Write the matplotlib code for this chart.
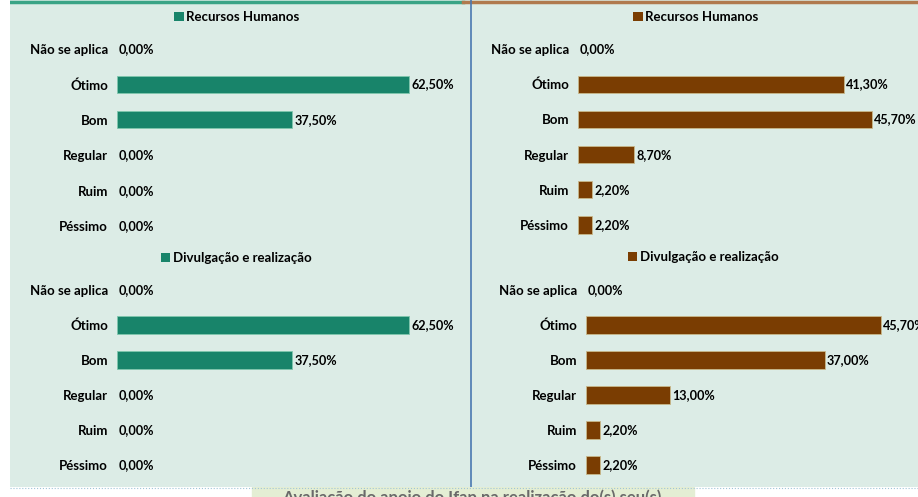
import matplotlib.pyplot as plt
from matplotlib.patches import Rectangle

# categories and values
categorias = ['Não se aplica', 'Ótimo', 'Bom', 'Regular', 'Ruim', 'Péssimo']
rh_esq = [0.0, 62.5, 37.5, 0.0, 0.0, 0.0]
div_esq = [0.0, 62.5, 37.5, 0.0, 0.0, 0.0]
rh_dir = [0.0, 41.3, 45.7, 8.7, 2.2, 2.2]
div_dir = [0.0, 45.7, 37.0, 13.0, 2.2, 2.2]
serie_rh = 'Recursos Humanos'
serie_div = 'Divulgação e realização'
rodape = 'Avaliação do apoio do Ifap na realização do(s) seu(s)'

VERDE = '#18846a'
MARROM = '#7a3d02'
FUNDO = '#dcece6'

W, H = 918, 497
plt.rcParams['font.family'] = ['Lato', 'DejaVu Sans']

fig = plt.figure(figsize=(W / 100, H / 100), dpi=100)
fig.patch.set_facecolor('white')


def caixa(x0, y0, x1, y1):
    return [x0 / W, 1 - y1 / H, (x1 - x0) / W, (y1 - y0) / H]


# background panel and decorations
bg = fig.add_axes(caixa(10, 0, 918, 487))
bg.set_facecolor(FUNDO)
bg.set_xlim(10, 918)
bg.set_ylim(487, 0)
bg.set_xticks([])
bg.set_yticks([])
for s in bg.spines.values():
    s.set_visible(False)
bg.plot([10, 463], [1.5, 1.5], color='#3aa486', lw=2.5)
bg.plot([463, 918], [1.5, 1.5], color='#b07a4e', lw=2.5)
bg.plot([471, 471], [0, 487], color='#4a78b0', lw=1.2)

# footer strip
ft = fig.add_axes(caixa(0, 487, 918, 497))
ft.set_xlim(0, 918)
ft.set_ylim(497, 487)
ft.axis('off')
ft.plot([10, 918], [488, 488], color='#9fc4d8', lw=0.8, ls=':')
ft.add_patch(Rectangle((252, 487), 442, 10, color='#e4eed4', zorder=1))
fig.text(472 / W, 1 - 498 / H, rodape, ha='center', va='center',
         fontsize=12, color='#6a6a6a', fontweight='bold')


def painel(x0, y_top, y_bot, escala, x_dir, valores, cor, serie, leg_xy):
    passo = (y_bot - y_top) / (len(categorias) - 1)
    ax = fig.add_axes(caixa(x0, y_top - passo / 2, x_dir, y_bot + passo / 2))
    pos = list(range(len(categorias)))
    borda = '#c9b98a' if cor == MARROM else '#7fc7ae'
    ax.barh(pos, valores, height=0.49, color=cor, edgecolor=borda,
            linewidth=[0.6 if v > 0 else 0 for v in valores], label=serie)
    ax.set_xlim(0, (x_dir - x0) / escala)
    ax.set_ylim(len(categorias) - 0.5, -0.5)
    ax.set_yticks(pos)
    ax.set_yticklabels(categorias, fontsize=9.5, fontweight='bold')
    ax.tick_params(axis='y', length=0, pad=6.5)
    ax.set_xticks([])
    ax.patch.set_visible(False)
    for s in ax.spines.values():
        s.set_visible(False)
    for p, v in zip(pos, valores):
        ax.annotate(f'{v:.2f}%'.replace('.', ','), (v, p), xytext=(1.5, 0),
                    textcoords='offset points', ha='left', va='center',
                    fontsize=9.1, fontweight='bold', annotation_clip=False)
    ax.legend(loc='center', bbox_to_anchor=(leg_xy[0] / W, 1 - leg_xy[1] / H),
              bbox_transform=fig.transFigure, frameon=False,
              handlelength=0.7, handleheight=0.7, handletextpad=0.2,
              prop={'size': 9.5, 'weight': 'bold'})
    return ax


painel(117, 49, 226, 4.672, 460, rh_esq, VERDE, serie_rh, (237, 17))
painel(578, 49, 225, 6.44, 918, rh_dir, MARROM, serie_rh, (696, 17))
painel(117, 290, 465, 4.672, 460, div_esq, VERDE, serie_div, (236, 258))
painel(586, 290, 465, 6.45, 918, div_dir, MARROM, serie_div, (703, 257))

fig.savefig('out.png', dpi=100)
